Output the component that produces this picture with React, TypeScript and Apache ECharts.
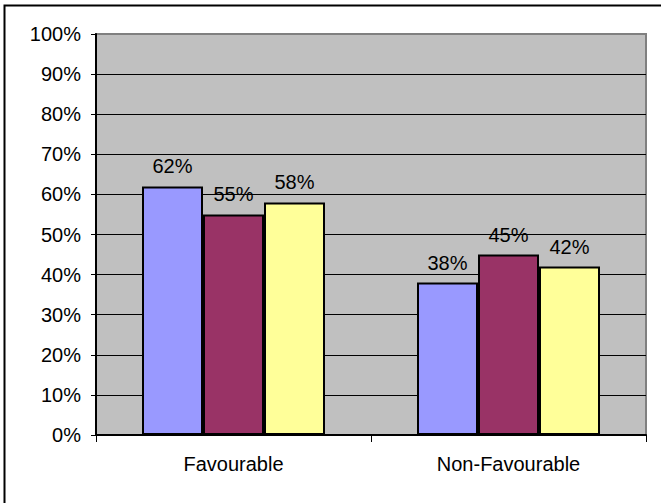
import React, { useEffect, useRef } from "react";
import * as echarts from "echarts";

const categories = ["Favourable", "Non-Favourable"];
const seriesA = [62, 38];
const seriesB = [55, 45];
const seriesC = [58, 42];
const seriesColors = ["#9999FF", "#993366", "#FFFF99"];
const yTicksMax = 100;
const yTicksStep = 10;

const FONT = "Arial, 'Liberation Sans', sans-serif";
const FS = 20;

export default function App() {
  const ref = useRef<HTMLDivElement>(null);
  useEffect(() => {
    if (!ref.current) return;
    const chart = echarts.init(ref.current, null, { renderer: "svg" });
    const splitColors: string[] = [];
    for (let i = 0; i <= yTicksMax / yTicksStep; i++) {
      splitColors.push(i === yTicksMax / yTicksStep ? "#808080" : "#000000");
    }
    const mk = (name: string, data: number[], color: string) => ({
      name,
      type: "bar",
      data,
      barWidth: 61,
      barGap: "0%",
      itemStyle: { color, borderColor: "#000", borderWidth: 2 },
      label: {
        show: true,
        position: "top",
        distance: 10,
        formatter: "{c}%",
        color: "#000",
        fontSize: FS,
        fontFamily: FONT,
      },
    });
    chart.setOption({
      animation: false,
      backgroundColor: "#fff",
      textStyle: { fontFamily: FONT },
      graphic: [
        {
          type: "rect",
          shape: { x: 4.5, y: 5.5, width: 1000, height: 1000 },
          style: { fill: "none", stroke: "#000", lineWidth: 2 },
          z: 100,
          silent: true,
        },
      ],
      grid: {
        left: 96,
        right: 15,
        top: 34,
        bottom: 68,
        show: true,
        backgroundColor: "#C0C0C0",
        borderColor: "#808080",
        borderWidth: 2,
      },
      xAxis: {
        type: "category",
        data: categories,
        axisLine: { lineStyle: { color: "#000", width: 2 } },
        axisTick: { show: true, length: 7, lineStyle: { color: "#000", width: 1 } },
        axisLabel: { color: "#000", fontSize: FS, fontFamily: FONT, margin: 19 },
        splitLine: { show: false },
      },
      yAxis: {
        type: "value",
        min: 0,
        max: yTicksMax,
        interval: yTicksStep,
        axisLine: { show: true, lineStyle: { color: "#000", width: 2 } },
        axisTick: { show: true, length: 5, lineStyle: { color: "#000", width: 1 } },
        axisLabel: {
          color: "#000",
          fontSize: FS,
          fontFamily: FONT,
          margin: 15,
          formatter: "{value}%",
        },
        splitLine: { show: true, lineStyle: { color: splitColors, width: 1 } },
      },
      series: [
        mk("A", seriesA, seriesColors[0]),
        mk("B", seriesB, seriesColors[1]),
        mk("C", seriesC, seriesColors[2]),
      ],
    });
    return () => chart.dispose();
  }, []);
  return (
    <div
      ref={ref}
      style={{ position: "fixed", left: 0, top: 0, width: 661, height: 503 }}
    />
  );
}
